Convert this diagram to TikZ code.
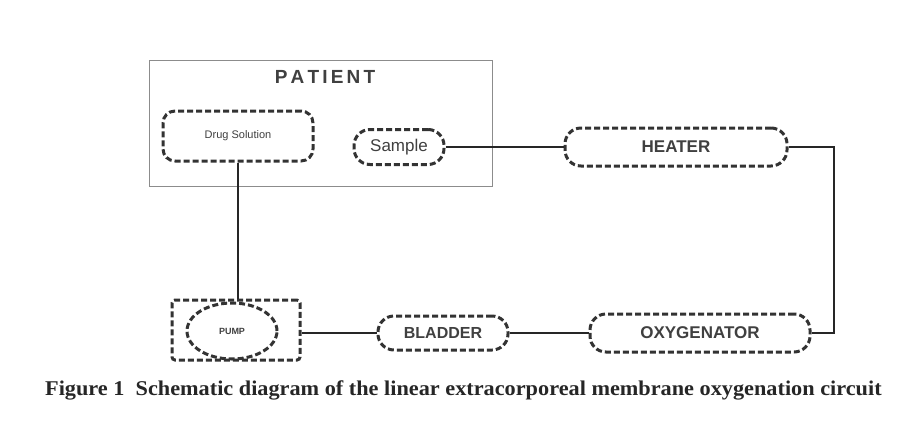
\documentclass[tikz,border=0pt]{standalone}
\usepackage{fontspec}
\usepackage{graphicx}
\setmainfont{Liberation Sans}
\newfontfamily\capfont{Liberation Serif}
\usetikzlibrary{shapes.geometric}
\begin{document}
\begin{tikzpicture}[x=1pt,y=-1pt,
  dbox/.style={draw=black!80, line width=3pt, dash pattern=on 6pt off 3pt, rounded corners=12pt, inner sep=0pt},
  wire/.style={draw=black!85, line width=2.8pt},
  lbl/.style={text=black!75}]
\useasboundingbox[fill=white] (0,0) rectangle (897,424);
% patient frame
\node[draw=black!45, line width=1pt, minimum width=343pt, minimum height=126pt, inner sep=0pt] (patient) at (320.5,123) {};
\node[lbl, font=\bfseries\fontsize{19}{19}\selectfont] (ptitle) at (325,77) {P\,A\,T\,I\,E\,N\,T};
% nodes
\node[dbox, minimum width=150pt, minimum height=50pt, lbl, font=\fontsize{11}{11}\selectfont] (drug) at (238,136) {Drug Solution};
\node[dbox, rounded corners=16pt, minimum width=90pt, minimum height=35pt, lbl, font=\fontsize{17}{17}\selectfont] (sample) at (399,147) {Sample};
\node[dbox, rounded corners=16pt, minimum width=222pt, minimum height=38pt, lbl, font=\bfseries\fontsize{17}{17}\selectfont] (heater) at (676,147) {HEATER};
\node[dbox, rounded corners=16pt, minimum width=220pt, minimum height=38pt, lbl, font=\bfseries\fontsize{17}{17}\selectfont] (oxy) at (700,333) {OXYGENATOR};
\node[dbox, rounded corners=16pt, minimum width=130pt, minimum height=34pt, lbl, font=\bfseries\fontsize{16}{16}\selectfont] (bladder) at (443,333) {BLADDER};
\node[dbox, rounded corners=3pt, minimum width=128pt, minimum height=60pt] (pumpbox) at (236,330) {};
\node[dbox, ellipse, minimum width=90pt, minimum height=56pt, lbl, font=\bfseries\fontsize{9}{9}\selectfont] (pump) at (232,331) {PUMP};
% connectors
\coordinate (rtop) at (834,147);
\coordinate (rbot) at (834,333);
\draw[wire] (sample.east) -- (heater.west);
\draw[wire] (heater.east) -- (rtop) -- (rbot) -- (oxy.east);
\draw[wire] (oxy.west) -- (bladder.east);
\draw[wire] (bladder.west) -- (pumpbox.east |- bladder.west);
\draw[wire] (drug.south) -- (drug.south |- pumpbox.north);
% caption
\node[anchor=west, font=\capfont\bfseries\fontsize{21}{21}\selectfont, text=black!85, inner sep=0pt] (cap) at (45,390) {\scalebox{1.06}[1]{Figure 1\ \ Schematic diagram of the linear extracorporeal membrane oxygenation circuit}};
\end{tikzpicture}
\end{document}
